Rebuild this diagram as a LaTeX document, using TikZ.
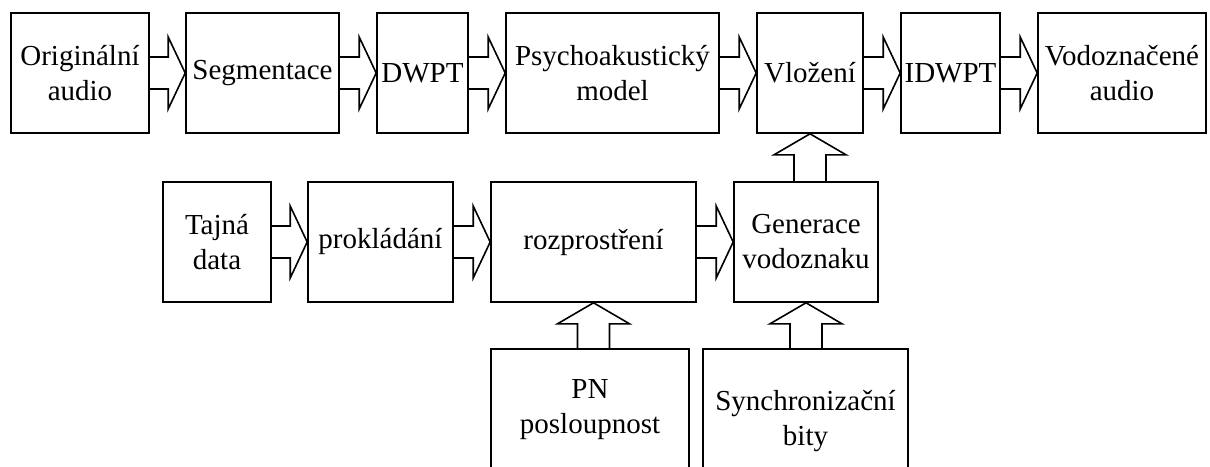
\documentclass[tikz,border=0pt]{standalone}
\usepackage{fontspec}
\setmainfont{Liberation Serif}
\usetikzlibrary{calc}

\begin{document}
\begin{tikzpicture}[x=1pt,y=-1pt,line width=1.6pt,
  box/.style={draw,inner sep=0pt,align=center,font=\fontsize{29}{35}\selectfont},
  toprow/.style={box,minimum height=120},
  midrow/.style={box,minimum height=120},
  rarrow/.style={to path={($(\tikztostart)+(0,-16)$) -- ($(\tikztotarget)+(-17,-16)$)
    -- ($(\tikztotarget)+(-17,-36)$) -- (\tikztotarget) -- ($(\tikztotarget)+(-17,36)$)
    -- ($(\tikztotarget)+(-17,16)$) -- ($(\tikztostart)+(0,16)$)}},
  uarrow/.style={to path={($(\tikztotarget |- \tikztostart)+(-16,0)$) -- ($(\tikztotarget)+(-16,21)$)
    -- ($(\tikztotarget)+(-36,21)$) -- (\tikztotarget) -- ($(\tikztotarget)+(36,21)$)
    -- ($(\tikztotarget)+(16,21)$) -- ($(\tikztotarget |- \tikztostart)+(16,0)$)}}]
\useasboundingbox (0,0) rectangle (1210,466);
\clip (0,0) rectangle (1210,466);

% Audio chain
\node[toprow,minimum width=138] (orig) at (80,73) {Originální\\audio};
\node[toprow,minimum width=153] (seg) at (262.5,73) {Segmentace};
\node[toprow,minimum width=91] (dwpt) at (422.5,73) {DWPT};
\node[toprow,minimum width=213] (psy) at (612.5,73) {Psychoakustický\\model};
\node[toprow,minimum width=106] (vlo) at (810,73) {Vložení};
\node[toprow,minimum width=99] (idwpt) at (950.5,73) {IDWPT};
\node[toprow,minimum width=168] (vod) at (1122,73) {Vodoznačené\\audio};

% Watermark chain
\node[midrow,minimum width=108] (taj) at (217,242) {Tajná\\data};
\node[midrow,minimum width=145] (pro) at (380.5,242) {prokládání};
\node[midrow,minimum width=205] (roz) at (593.5,242) {rozprostření};
\node[midrow,minimum width=144] (gen) at (806,242) {Generace\\vodoznaku};

% Inputs
\node[box,minimum width=198,minimum height=122] (pn) at (590,410) {PN\\posloupnost};
\node[box,minimum width=205,minimum height=144] (syn) at (805.5,421) {Synchronizační\\bity};

% Connections
\draw[rarrow] (orig.east) to (seg.west);
\draw[rarrow] (seg.east) to (dwpt.west);
\draw[rarrow] (dwpt.east) to (psy.west);
\draw[rarrow] (psy.east) to (vlo.west);
\draw[rarrow] (vlo.east) to (idwpt.west);
\draw[rarrow] (idwpt.east) to (vod.west);
\draw[rarrow] (taj.east) to (pro.west);
\draw[rarrow] (pro.east) to (roz.west);
\draw[rarrow] (roz.east) to (gen.west);
\draw[uarrow] (gen.north) to (vlo.south);
\draw[uarrow] (pn.north) to (roz.south);
\draw[uarrow] (syn.north) to (gen.south);
\end{tikzpicture}
\end{document}
